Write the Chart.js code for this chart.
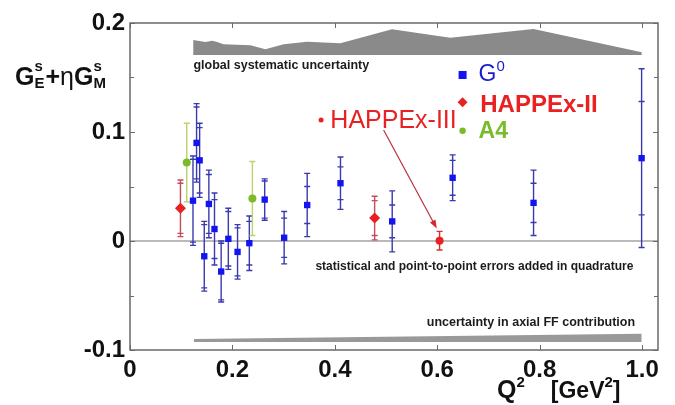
<!DOCTYPE html>
<html>
<head>
<meta charset="utf-8">
<script src="https://cdn.jsdelivr.net/npm/chart.js@4.4.1/dist/chart.umd.min.js"></script>
<style>
  html, body { margin: 0; padding: 0; background: #fff; }
  #wrap { width: 675px; height: 405px; }
</style>
</head>
<body>
<div id="wrap"><canvas id="c" width="675" height="405"></canvas></div>
<script>
// G0 (blue squares): Q2, value, total error, statistical error
const g0Q2   = [0.123, 0.130, 0.136, 0.145, 0.154, 0.165, 0.178, 0.192, 0.210, 0.233, 0.263, 0.301, 0.346, 0.411, 0.512, 0.630, 0.788, 0.999];
const g0Val  = [0.037, 0.090, 0.074, -0.014, 0.034, 0.011, -0.028, 0.002, -0.010, -0.002, 0.038, 0.003, 0.033, 0.053, 0.018, 0.058, 0.035, 0.076];
const g0Err  = [0.041, 0.036, 0.034, 0.032, 0.031, 0.033, 0.028, 0.028, 0.025, 0.025, 0.019, 0.024, 0.029, 0.024, 0.028, 0.021, 0.030, 0.082];
const g0Stat = [0.038, 0.033, 0.030, 0.029, 0.027, 0.027, 0.026, 0.025, 0.022, 0.020, 0.017, 0.018, 0.017, 0.015, 0.015, 0.016, 0.018, 0.052];

// HAPPEx-II (red diamonds)
const hapQ2   = [0.0985, 0.4777];
const hapVal  = [0.030, 0.021];
const hapErr  = [0.026, 0.020];
const hapStat = [0.023, 0.016];

// HAPPEx-III (red dot)
const h3Q2  = [0.6045];
const h3Val = [0.0003];
const h3Err = [0.0085];

// A4 (green dots)
const a4Q2  = [0.1108, 0.239];
const a4Val = [0.072, 0.039];
const a4Err = [0.036, 0.034];

// global systematic uncertainty band (upper edge, flat lower edge)
const sysQ2   = [0.1233, 0.1473, 0.1604, 0.1701, 0.1824, 0.2351, 0.2644, 0.3001, 0.3458, 0.4107, 0.5116, 0.6254, 0.7879, 0.9994];
const sysTop  = [0.1844, 0.1826, 0.1838, 0.1826, 0.1805, 0.1795, 0.1759, 0.1805, 0.1829, 0.1814, 0.1942, 0.1865, 0.1945, 0.1731];
const sysBase = 0.1706;

// axial form factor uncertainty band
const axialQ2   = [0.1249, 0.9992];
const axialTop  = [-0.0898, -0.0850];
const axialBase = -0.0927;

// tick labels
const xTickVals = [0, 0.2, 0.4, 0.6, 0.8, 1.0];
const xTickText = ['0', '0.2', '0.4', '0.6', '0.8', '1.0'];
const yTickVals = [-0.1, 0, 0.1, 0.2];
const yTickText = ['-0.1', '0', '0.1', '0.2'];

const FONT = "'Liberation Sans', Arial, Helvetica, sans-serif";
const pts = (xs, ys) => xs.map((x, i) => ({ x, y: ys[i] }));
const lookup = (vals, text) => v => {
  const i = vals.findIndex(t => Math.abs(t - v) < 1e-6);
  return i < 0 ? '' : text[i];
};
const xLabel = lookup(xTickVals, xTickText);
const yLabel = lookup(yTickVals, yTickText);

// error bars with outer (total) and inner (stat) caps
const errorBars = {
  id: 'errorBars',
  beforeDatasetsDraw(chart) {
    const ctx = chart.ctx, ys = chart.scales.y, a = chart.chartArea;
    // zero line
    ctx.save();
    ctx.strokeStyle = '#a3a3a3';
    ctx.lineWidth = 1.5;
    ctx.beginPath();
    ctx.moveTo(a.left, ys.getPixelForValue(0));
    ctx.lineTo(a.right, ys.getPixelForValue(0));
    ctx.stroke();
    chart.data.datasets.forEach((ds, i) => {
      if (!ds.err) return;
      const meta = chart.getDatasetMeta(i);
      ctx.strokeStyle = ds.errColor;
      ctx.lineWidth = 1.4;
      meta.data.forEach((p, j) => {
        const v = ds.data[j].y, e = ds.err[j];
        const top = ys.getPixelForValue(v + e), bot = ys.getPixelForValue(v - e);
        ctx.beginPath();
        ctx.moveTo(p.x, top);
        ctx.lineTo(p.x, bot);
        const caps = [top, bot];
        if (ds.stat) caps.push(ys.getPixelForValue(v + ds.stat[j]), ys.getPixelForValue(v - ds.stat[j]));
        caps.forEach(c => { ctx.moveTo(p.x - 3, c); ctx.lineTo(p.x + 3, c); });
        ctx.stroke();
      });
    });
    ctx.restore();
  }
};

// draws text pieces, stacked {sup, sub} pairs allowed
function rich(ctx, x, y, parts, color) {
  ctx.fillStyle = color;
  ctx.textBaseline = 'alphabetic';
  ctx.textAlign = 'left';
  parts.forEach(p => {
    if (p.sup !== undefined) {
      ctx.font = p.font;
      let w = 0;
      if (p.sup) { ctx.fillText(p.sup, x, y + p.supDy); w = ctx.measureText(p.sup).width; }
      if (p.sub) { ctx.fillText(p.sub, x, y + p.subDy); w = Math.max(w, ctx.measureText(p.sub).width); }
      x += w + (p.gap || 0);
    } else {
      ctx.font = p.font;
      ctx.fillText(p.t, x, y);
      x += ctx.measureText(p.t).width + (p.gap || 0);
    }
  });
}

const decor = {
  id: 'decor',
  afterDraw(chart) {
    const ctx = chart.ctx, xs = chart.scales.x, ys = chart.scales.y, a = chart.chartArea;
    const X = v => xs.getPixelForValue(v), Y = v => ys.getPixelForValue(v);
    ctx.save();

    // frame and inward ticks on all four sides
    ctx.strokeStyle = '#6a6a6a';
    ctx.lineWidth = 1.5;
    ctx.strokeRect(a.left, a.top, a.right - a.left, a.bottom - a.top);
    ctx.lineWidth = 1;
    ctx.beginPath();
    xs.ticks.forEach(t => {
      const px = Math.round(X(t.value)) + 0.5;
      ctx.moveTo(px, a.bottom); ctx.lineTo(px, a.bottom - 5);
      ctx.moveTo(px, a.top); ctx.lineTo(px, a.top + 5);
    });
    ys.ticks.forEach(t => {
      const py = Math.round(Y(t.value)) + 0.5;
      const len = yLabel(t.value) ? 5 : 4;
      ctx.moveTo(a.left, py); ctx.lineTo(a.left + len, py);
      ctx.moveTo(a.right, py); ctx.lineTo(a.right - len, py);
    });
    ctx.stroke();

    // band captions
    ctx.fillStyle = '#1c1c1c';
    ctx.textBaseline = 'middle';
    ctx.textAlign = 'left';
    ctx.font = 'bold 12.5px ' + FONT;
    ctx.fillText('global systematic uncertainty', X(0.1239), Y(0.1606));
    ctx.font = 'bold 12px ' + FONT;
    ctx.fillText('statistical and point-to-point errors added in quadrature', X(0.362), Y(-0.0239));
    ctx.font = 'bold 12.5px ' + FONT;
    ctx.textAlign = 'right';
    ctx.fillText('uncertainty in axial FF contribution', X(0.9863), Y(-0.0752));

    // legend
    const lx = X(0.6494);
    ctx.fillStyle = '#1414f0';
    ctx.fillRect(lx - 4, Y(0.1523) - 4, 8, 8);
    ctx.fillStyle = '#e82222';
    ctx.beginPath();
    const dy = Y(0.1272);
    ctx.moveTo(lx, dy - 5); ctx.lineTo(lx + 5, dy); ctx.lineTo(lx, dy + 5); ctx.lineTo(lx - 5, dy); ctx.closePath();
    ctx.fill();
    ctx.fillStyle = '#7cba2c';
    ctx.beginPath(); ctx.arc(lx, Y(0.1012), 3.2, 0, Math.PI * 2); ctx.fill();

    rich(ctx, X(0.6806), Y(0.1468), [
      { t: 'G', font: '23px ' + FONT },
      { sup: '0', supDy: -10, font: '15px ' + FONT }
    ], '#1a1ad0');
    rich(ctx, X(0.6839), Y(0.1183), [{ t: 'HAPPEx-II', font: 'bold 24px ' + FONT }], '#e82222');
    rich(ctx, X(0.6806), Y(0.0945), [{ t: 'A4', font: 'bold 23px ' + FONT }], '#7cba2c');

    // HAPPEx-III label and arrow
    ctx.fillStyle = '#e82222';
    ctx.beginPath(); ctx.arc(X(0.3731), Y(0.111), 2.5, 0, Math.PI * 2); ctx.fill();
    rich(ctx, X(0.3912), Y(0.1037), [{ t: 'HAPPEx-III', font: '25px ' + FONT }], '#e82222');
    const x1 = X(0.4952), y1 = Y(0.1018), x2 = X(0.599), y2 = Y(0.0115);
    const ang = Math.atan2(y2 - y1, x2 - x1);
    ctx.strokeStyle = '#b8323c';
    ctx.fillStyle = '#d02a30';
    ctx.lineWidth = 1.2;
    ctx.beginPath(); ctx.moveTo(x1, y1); ctx.lineTo(x2 - 6 * Math.cos(ang), y2 - 6 * Math.sin(ang)); ctx.stroke();
    ctx.beginPath();
    ctx.moveTo(x2, y2);
    ctx.lineTo(x2 - 9 * Math.cos(ang - 0.35), y2 - 9 * Math.sin(ang - 0.35));
    ctx.lineTo(x2 - 9 * Math.cos(ang + 0.35), y2 - 9 * Math.sin(ang + 0.35));
    ctx.closePath(); ctx.fill();

    // axis titles
    rich(ctx, a.left - 115, a.top + 62, [
      { t: 'G', font: 'bold 25px ' + FONT },
      { sup: 's', supDy: -14, sub: 'E', subDy: 3, font: 'bold 15px ' + FONT, gap: 1 },
      { t: '+', font: 'bold 25px ' + FONT },
      { t: 'η', font: '25px ' + FONT },
      { t: 'G', font: 'bold 25px ' + FONT },
      { sup: 's', supDy: -14, sub: 'M', subDy: 3, font: 'bold 15px ' + FONT }
    ], '#111');
    rich(ctx, a.right - 161, a.bottom + 48, [
      { t: 'Q', font: 'bold 25px ' + FONT },
      { sup: '2', supDy: -11, font: 'bold 15px ' + FONT, gap: 26 },
      { t: '[GeV', font: 'bold 23px ' + FONT },
      { sup: '2', supDy: -11, font: 'bold 15px ' + FONT },
      { t: ']', font: 'bold 23px ' + FONT }
    ], '#111');
    ctx.restore();
  }
};

const band = (xv, yv, base, color) => ({
  type: 'line', data: pts(xv, yv), fill: { value: base },
  backgroundColor: color, borderWidth: 0, pointRadius: 0, tension: 0
});
const marks = (xv, yv, style, r, color, err, errColor, stat) => ({
  type: 'scatter', data: pts(xv, yv), pointStyle: style, pointRadius: r,
  backgroundColor: color, borderColor: color, borderWidth: 0,
  err, stat, errColor
});

new Chart(document.getElementById('c'), {
  type: 'scatter',
  data: {
    datasets: [
      band(sysQ2, sysTop, sysBase, '#8a8a8a'),
      band(axialQ2, axialTop, axialBase, '#999999'),
      marks(g0Q2, g0Val, 'rect', 4.5, '#1414f0', g0Err, '#3a3ab0', g0Stat),
      marks(hapQ2, hapVal, 'rectRot', 5.5, '#e82222', hapErr, '#c84a5a', hapStat),
      marks(h3Q2, h3Val, 'circle', 4, '#e82222', h3Err, '#d83030'),
      marks(a4Q2, a4Val, 'circle', 4, '#7cba2c', a4Err, '#b9d36e')
    ]
  },
  options: {
    responsive: false,
    animation: false,
    devicePixelRatio: 1,
    layout: { padding: { left: 0, top: 23, right: 17, bottom: 0 } },
    plugins: { legend: { display: false }, tooltip: { enabled: false } },
    scales: {
      x: {
        type: 'linear', min: 0, max: 1.031,
        afterFit: s => { s.height = 55; },
        grid: { display: false, drawTicks: false },
        border: { display: false },
        ticks: {
          stepSize: 0.2, includeBounds: false, padding: 6, autoSkip: false, maxRotation: 0,
          color: '#111', font: { family: FONT, size: 24, weight: 'bold' },
          callback: v => xLabel(v)
        }
      },
      y: {
        type: 'linear', min: -0.1, max: 0.2,
        afterFit: s => { s.width = 130; },
        grid: { display: false, drawTicks: false },
        border: { display: false },
        ticks: {
          stepSize: 0.05, padding: 5, autoSkip: false,
          color: '#111', font: { family: FONT, size: 24, weight: 'bold' },
          callback: v => yLabel(v)
        }
      }
    }
  },
  plugins: [errorBars, decor]
});
</script>
</body>
</html>
